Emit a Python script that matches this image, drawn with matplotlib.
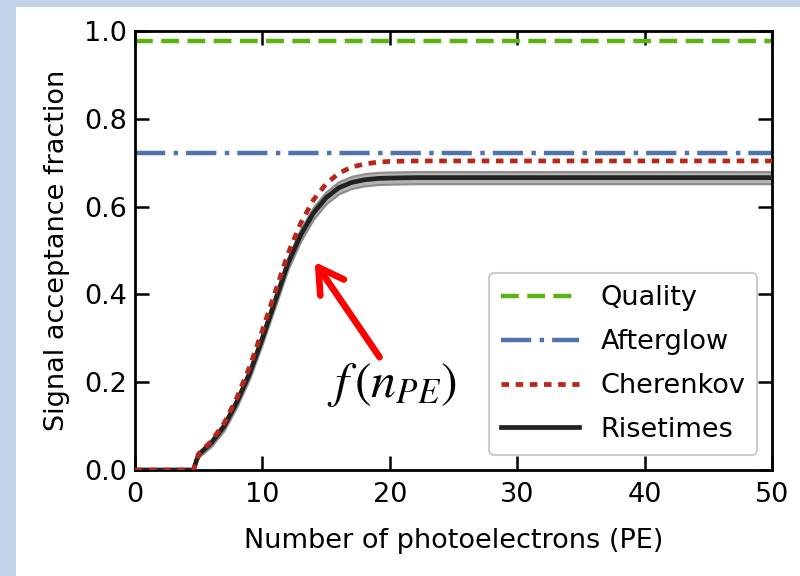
import matplotlib
matplotlib.use("Agg")
import matplotlib.pyplot as plt
from matplotlib.patches import Rectangle
import numpy as np

# ---- data ----
quality_level = 0.977
afterglow_level = 0.721

rise_x = [0, 4.6, 4.8, 5.0, 6, 7, 8, 9, 10, 11, 12, 13, 14, 15, 16, 17, 18, 19, 20, 22, 25, 30, 40, 50]
rise_y = [0, 0, 0.02, 0.035, 0.062, 0.10, 0.155, 0.22, 0.30, 0.385, 0.47, 0.535, 0.585, 0.62, 0.643,
          0.655, 0.661, 0.664, 0.665, 0.666, 0.666, 0.666, 0.666, 0.666]
rise_err = [0, 0, 0.004, 0.006, 0.008, 0.01, 0.011, 0.012, 0.013, 0.014, 0.014, 0.014, 0.014, 0.014,
            0.014, 0.014, 0.014, 0.014, 0.014, 0.014, 0.014, 0.014, 0.014, 0.014]

cher_x = [0, 4.6, 4.8, 5.0, 6, 7, 8, 9, 10, 11, 12, 13, 14, 15, 16, 17, 18, 19, 20, 22, 25, 30, 40, 50]
cher_y = [0, 0, 0.02, 0.037, 0.066, 0.107, 0.165, 0.235, 0.318, 0.405, 0.492, 0.562, 0.615, 0.652, 0.676,
          0.690, 0.697, 0.701, 0.703, 0.704, 0.704, 0.704, 0.704, 0.704]

xticks = [0, 10, 20, 30, 40, 50]
yticks = [0.0, 0.2, 0.4, 0.6, 0.8, 1.0]

FS = 19.5

fig = plt.figure(figsize=(8, 5.76), dpi=100, facecolor='#c3d4ea')
fig.patches.append(Rectangle((16/800, 0), 1, (576-7)/576, transform=fig.transFigure,
                             facecolor='white', edgecolor='none', zorder=-10))

ax = fig.add_axes([135/800, (576-470)/576, (772-135)/800, (470-31)/576])
ax.set_facecolor('white')

ax.axhline(quality_level, color='#5ab40f', lw=3.2, ls=(0, (4.0, 1.9)), label='Quality')
ax.axhline(afterglow_level, color='#5173ad', lw=3.2, ls=(0, (6.8, 1.9, 1.0, 1.8)), label='Afterglow')
ax.plot(cher_x, cher_y, color='#b8271a', lw=3.4, ls=(0, (1.6, 1.4)), label='Cherenkov', zorder=4)
ry = np.array(rise_y); re = np.array(rise_err)
ax.fill_between(rise_x, ry - re, ry + re, color='#a0a0a0', alpha=0.8, lw=1.5, edgecolor='#7a7a7a', zorder=2)
ax.plot(rise_x, rise_y, color='#222222', lw=3.4, label='Risetimes', zorder=3)

ax.set_xlim(0, 50)
ax.set_ylim(0, 1.0)
ax.set_xticks(xticks)
ax.set_yticks(yticks)
ax.set_yticklabels([f'{v:.1f}' for v in yticks])
ax.tick_params(direction='in', length=10, width=1.8, labelsize=FS, top=True, right=True)
ax.tick_params(axis='x', pad=9)
ax.tick_params(axis='y', pad=6)
for s in ax.spines.values():
    s.set_linewidth(2)

ax.set_xlabel('Number of photoelectrons (PE)', fontsize=FS, labelpad=14)
ax.set_ylabel('Signal acceptance fraction', fontsize=FS, labelpad=10)

leg = ax.legend(loc='lower right', bbox_to_anchor=(0.977, 0.034), borderaxespad=0, fontsize=FS,
                handlelength=2.85, labelspacing=0.66, handletextpad=0.8, borderpad=0.45,
                fancybox=True, framealpha=1, edgecolor='#cccccc')
leg.get_frame().set_linewidth(1.5)

ax.annotate('', xy=(14.1, 0.474), xytext=(19.2, 0.257),
            arrowprops=dict(arrowstyle='->,head_length=0.65,head_width=0.38', color='red', lw=4.8,
                            mutation_scale=27, shrinkA=0, shrinkB=0), zorder=6)
ax.text(20.2, 0.194, r'$f\,(n_{PE})$', fontsize=36, ha='center', va='center', math_fontfamily='stix', zorder=6)

fig.savefig('out.png', dpi=100, facecolor=fig.get_facecolor())
